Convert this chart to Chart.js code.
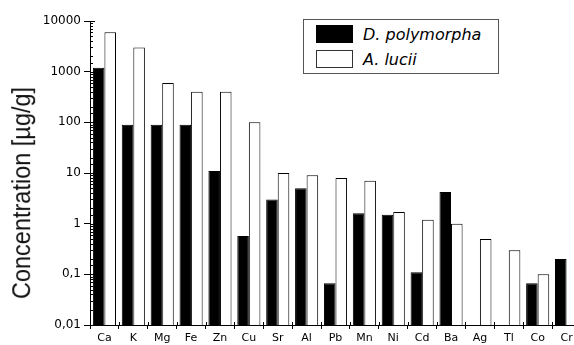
<!DOCTYPE html>
<html><head><meta charset="utf-8">
<script src="https://cdn.jsdelivr.net/npm/chart.js@4.4.1/dist/chart.umd.min.js"></script>
<style>
html,body{margin:0;padding:0;background:#fff;overflow:hidden;}
#wrap{position:relative;width:574px;height:345px;overflow:hidden;background:#fff;}
#c{position:absolute;left:0;top:0;}
#ytitle{position:absolute;left:22px;top:193px;transform:translate(-50%,-50%) rotate(-90deg) scaleY(1.08);font:23.5px "Liberation Sans",Arial,sans-serif;white-space:nowrap;color:#111;line-height:1;}
#legend{position:absolute;left:303px;top:19px;width:196px;height:55px;box-sizing:border-box;border:1px solid #555;background:#fff;}
.sw{position:absolute;left:12px;width:37px;height:18px;box-sizing:border-box;}
.lt{position:absolute;left:59px;font:italic 16px "DejaVu Sans",sans-serif;line-height:18px;color:#000;white-space:nowrap;}
</style>
</head><body>
<div id="wrap">
<canvas id="c" width="586" height="345"></canvas>
<div id="ytitle">Concentration [µg/g]</div>
<div id="legend">
  <div class="sw" style="top:5px;background:#000;"></div><div class="lt" style="top:6px;">D. polymorpha</div>
  <div class="sw" style="top:30px;background:#fff;border:1px solid #333;"></div><div class="lt" style="top:31px;">A. lucii</div>
</div>
</div>
<script>
const categories = ['Ca','K','Mg','Fe','Zn','Cu','Sr','Al','Pb','Mn','Ni','Cd','Ba','Ag','Tl','Co','Cr'];
const dPolymorpha = [1200, 90, 90, 90, 11, 0.57, 3, 5, 0.067, 1.6, 1.5, 0.11, 4.2, null, null, 0.067, 0.2];
const aLucii = [6000, 3000, 600, 400, 400, 100, 10, 9, 8, 7, 1.7, 1.2, 1.0, 0.5, 0.3, 0.1, null];
const yTickLabels = ['0,01','0,1','1','10','100','1000','10000'];
const yMin = 0.01, yMax = 10000;

function isMajor(v){ const l = Math.log10(v); return Math.abs(l - Math.round(l)) < 1e-9; }

const innerTicks = {
  id: 'innerTicks',
  afterDraw(chart){
    const ctx = chart.ctx, y = chart.scales.y, x = chart.scales.x;
    ctx.save();
    ctx.strokeStyle = '#000'; ctx.lineWidth = 1;
    ctx.beginPath();
    y.ticks.forEach(t => {
      const p = Math.round(y.getPixelForValue(t.value)) + 0.5;
      const len = isMajor(t.value) ? 5 : 3;
      ctx.moveTo(y.right, p); ctx.lineTo(y.right + len, p);
    });
    for (let i = 1; i < categories.length; i++) {
      const p = Math.round((x.getPixelForValue(i - 1) + x.getPixelForValue(i)) / 2) + 0.5;
      ctx.moveTo(p, x.top); ctx.lineTo(p, x.top - 3);
    }
    ctx.stroke();
    ctx.restore();
  }
};

new Chart(document.getElementById('c'), {
  type: 'bar',
  data: {
    labels: categories,
    datasets: [
      { label: 'D. polymorpha', data: dPolymorpha, backgroundColor: '#000', borderColor: '#000', borderWidth: 1, borderSkipped: 'start' },
      { label: 'A. lucii', data: aLucii, backgroundColor: '#fff', borderColor: '#000', borderWidth: 1, borderSkipped: 'start' }
    ]
  },
  options: {
    responsive: false,
    devicePixelRatio: 1,
    animation: false,
    layout: { padding: { left: 0, right: 5, top: 21, bottom: 0 } },
    plugins: { legend: { display: false }, tooltip: { enabled: false } },
    datasets: { bar: { categoryPercentage: 0.8, barPercentage: 1.0 } },
    scales: {
      x: {
        grid: { display: true, offset: true, drawOnChartArea: false, drawTicks: true, tickLength: 4, tickColor: '#000' },
        border: { display: true, color: '#000', width: 1 },
        ticks: { color: '#000', font: { family: 'DejaVu Sans', size: 11 }, padding: 3, maxRotation: 0, autoSkip: false },
        afterFit(s){ s.height = 20; }
      },
      y: {
        type: 'logarithmic',
        min: yMin, max: yMax,
        grid: { display: true, drawOnChartArea: false, drawTicks: true, tickLength: 6,
          tickColor: c => (c.tick && isMajor(c.tick.value)) ? '#000' : 'rgba(0,0,0,0)' },
        border: { display: true, color: '#000', width: 1 },
        ticks: { color: '#000', font: { family: 'DejaVu Sans', size: 12 }, padding: 3, autoSkip: false,
          callback: v => isMajor(v) ? yTickLabels[Math.round(Math.log10(v)) + 2] : '' },
        afterFit(s){ s.width = 90; }
      }
    }
  },
  plugins: [innerTicks]
});
</script>
</body></html>
